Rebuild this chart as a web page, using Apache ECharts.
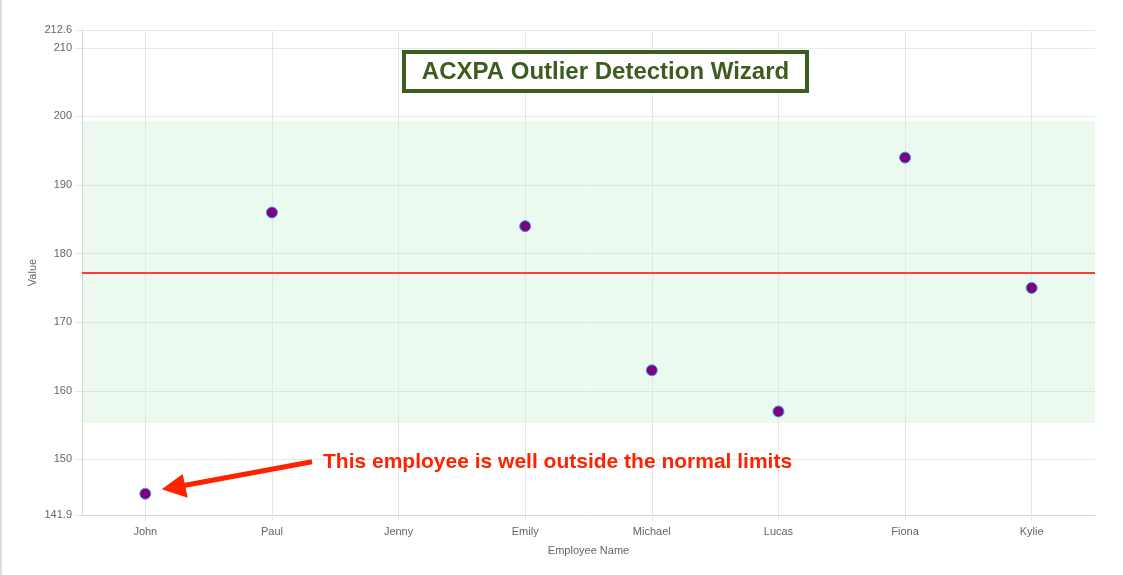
<!DOCTYPE html>
<html>
<head>
<meta charset="utf-8">
<script src="https://cdn.jsdelivr.net/npm/echarts@6/dist/echarts.min.js"></script>
<style>
html,body{margin:0;padding:0;background:#fff;}
#chart{width:1123px;height:575px;position:relative;}
#edge{position:absolute;left:0;top:0;width:2px;height:575px;background:#dedede;}
</style>
</head>
<body>
<div id="chart"></div>
<div id="edge"></div>
<script>
const categories = ['John', 'Paul', 'Jenny', 'Emily', 'Michael', 'Lucas', 'Fiona', 'Kylie'];
const values = [145, 186, null, 184, 163, 157, 194, 175];
const yMin = 141.9;
const yMax = 212.6;
const meanValue = 177.2;
const bandLower = 155.3;
const bandUpper = 199.3;
const titleText = 'ACXPA Outlier Detection Wizard';
const noteText = 'This employee is well outside the normal limits';

const chart = echarts.init(document.getElementById('chart'));
const font = 'Arial, "Liberation Sans", Helvetica, sans-serif';

const gridLines = categories.map(c => ({ xAxis: c, lineStyle: { color: '#e5e5e5', width: 1, type: 'solid' } }));

chart.setOption({
  animation: false,
  grid: { left: 82, right: 28, top: 30, bottom: 60 },
  xAxis: {
    type: 'category',
    data: categories,
    boundaryGap: true,
    name: 'Employee Name',
    nameLocation: 'middle',
    nameGap: 30,
    nameMoveOverlap: false,
    nameTextStyle: { color: '#666', fontSize: 11, fontFamily: font },
    axisLine: { show: true, lineStyle: { color: '#d6d6d6', width: 1 } },
    axisTick: { show: true, alignWithLabel: true, length: 6, lineStyle: { color: '#e5e5e5' } },
    axisLabel: { color: '#666', fontSize: 11, fontFamily: font, margin: 11 },
    splitLine: { show: false }
  },
  yAxis: {
    type: 'value',
    min: yMin,
    max: yMax,
    splitNumber: 7,
    name: 'Value',
    nameLocation: 'middle',
    nameGap: 44,
    nameMoveOverlap: false,
    nameTextStyle: { color: '#666', fontSize: 11, fontFamily: font },
    axisLine: { show: true, lineStyle: { color: '#d6d6d6', width: 1 } },
    axisTick: { show: true, length: 7, lineStyle: { color: '#e5e5e5' } },
    axisLabel: { color: '#666', fontSize: 11, fontFamily: font, margin: 10, showMinLabel: true, showMaxLabel: true },
    splitLine: { show: true, lineStyle: { color: '#e8e8e8', width: 1 } }
  },
  series: [
    {
      type: 'line',
      data: [],
      z: 1,
      silent: true,
      markArea: {
        silent: true,
        itemStyle: { color: 'rgba(144,224,164,0.18)' },
        data: [[{ yAxis: bandLower }, { yAxis: bandUpper }]]
      },
      markLine: {
        silent: true,
        symbol: ['none', 'none'],
        label: { show: false },
        animation: false,
        data: gridLines
      }
    },
    {
      type: 'line',
      data: [],
      z: 2,
      silent: true,
      markLine: {
        silent: true,
        symbol: ['none', 'none'],
        label: { show: false },
        animation: false,
        data: [{ yAxis: meanValue, lineStyle: { color: '#ff3b3b', width: 2, type: 'solid' } }]
      }
    },
    {
      type: 'scatter',
      data: values,
      z: 5,
      symbol: 'circle',
      symbolSize: 11,
      itemStyle: { color: '#800080', borderColor: '#36a2eb', borderWidth: 1, opacity: 1 }
    }
  ],
  graphic: [
    {
      type: 'rect',
      shape: { x: 404, y: 52, width: 403, height: 39 },
      style: { fill: '#fff', stroke: '#3b5e1e', lineWidth: 4 },
      z: 10
    },
    {
      type: 'text',
      x: 605.5, y: 72.5,
      style: { text: titleText, fill: '#3b5e1e', font: 'bold 24px ' + font, align: 'center', verticalAlign: 'middle' },
      z: 11
    },
    {
      type: 'text',
      x: 323, y: 462,
      style: { text: noteText, fill: '#ff2200', font: 'bold 21px ' + font, align: 'left', verticalAlign: 'middle' },
      z: 11
    },
    {
      type: 'line',
      shape: { x1: 312, y1: 461.7, x2: 184, y2: 485.5 },
      style: { stroke: '#ff2200', lineWidth: 5 },
      z: 11
    },
    {
      type: 'polygon',
      shape: { points: [[161.7, 489.3], [182.7, 474], [187.7, 497.7]] },
      style: { fill: '#ff2200' },
      z: 11
    }
  ]
});
</script>
</body>
</html>
